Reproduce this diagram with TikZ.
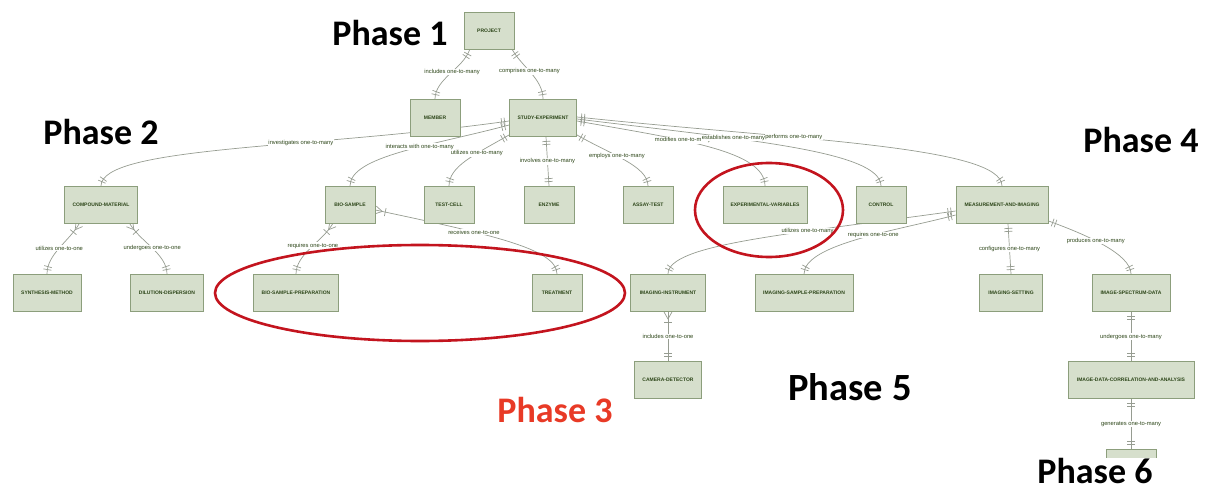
\documentclass[tikz,border=0pt]{standalone}
\usepackage{fontspec}
\setmainfont{Liberation Sans}
\newfontfamily\phasefont{Carlito}
\usetikzlibrary{decorations.markings,backgrounds}
\definecolor{boxfill}{RGB}{214,223,204}
\definecolor{boxline}{RGB}{140,158,124}
\definecolor{boxtext}{RGB}{45,70,25}
\definecolor{relline}{RGB}{150,156,145}
\definecolor{ringred}{RGB}{195,20,30}
\definecolor{phasered}{RGB}{232,58,38}
\begin{document}
\begin{tikzpicture}[x=1pt,y=1pt,
   entity/.style={draw=boxline,fill=boxfill,line width=.9pt,minimum width=50,minimum height=37,inner sep=1pt,
                  font=\fontsize{5}{6}\selectfont\bfseries,text=boxtext},
   lbl/.style={fill=white,inner sep=.6pt,font=\fontsize{5.8}{7}\selectfont,text=boxtext},
   rel/.style={draw=relline,line width=.7pt},
   onestart/.style={postaction={decorate,decoration={markings,
      mark=at position 4.5pt with {\draw[relline,line width=.7pt] (0,-4pt) -- (0,4pt);},
      mark=at position 7.5pt with {\draw[relline,line width=.7pt] (0,-4pt) -- (0,4pt);}}}},
   oneend/.style={postaction={decorate,decoration={markings,
      mark=at position -4.5pt with {\draw[relline,line width=.7pt] (0,-4pt) -- (0,4pt);},
      mark=at position -7.5pt with {\draw[relline,line width=.7pt] (0,-4pt) -- (0,4pt);}}}},
   crowstart/.style={postaction={decorate,decoration={markings,
      mark=at position 7pt with {\draw[relline,line width=.7pt] (-7pt,-4pt) -- (0,0) -- (-7pt,4pt);},
      mark=at position 10pt with {\draw[relline,line width=.7pt] (0,-4pt) -- (0,4pt);}}}},
   phase/.style={font=\phasefont\fontsize{36}{40}\selectfont\bfseries,inner sep=0pt},
   ring/.style={draw=ringred,line width=2.6pt}]

   \useasboundingbox (0,0) rectangle (1205,-492);

     % phase 1
     \path (489,-31) node[entity] (project) {PROJECT};
     \path (435,-118) node[entity] (member) {MEMBER};
     \path (543,-118) node[entity,minimum width=67] (study) {STUDY-EXPERIMENT};

     % phase 2
     \path (101,-205) node[entity,minimum width=73] (compound) {COMPOUND-MATERIAL};
     \path (47,-293) node[entity,minimum width=68] (synthesis) {SYNTHESIS-METHOD};
     \path (167,-293) node[entity,minimum width=73] (dilution) {DILUTION-DISPERSION};

     % phase 3
     \path (350,-205) node[entity] (biosample) {BIO-SAMPLE};
     \path (449,-205) node[entity] (testcell) {TEST-CELL};
     \path (549,-205) node[entity] (enzyme) {ENZYME};
     \path (648,-205) node[entity] (assay) {ASSAY-TEST};
     \path (765,-205) node[entity,minimum width=84] (expvar) {EXPERIMENTAL-VARIABLES};
     \path (881,-205) node[entity] (control) {CONTROL};
     \path (296,-293) node[entity,minimum width=85] (bioprep) {BIO-SAMPLE-PREPARATION};
     \path (557,-293) node[entity] (treatment) {TREATMENT};

     % phase 4 and 5
     \path (1002,-205) node[entity,minimum width=92] (measure) {MEASUREMENT-AND-IMAGING};
     \path (668,-293) node[entity,minimum width=75] (instrument) {IMAGING-INSTRUMENT};
     \path (804,-293) node[entity,minimum width=98] (imgprep) {IMAGING-SAMPLE-PREPARATION};
     \path (1011,-293) node[entity,minimum width=63] (setting) {IMAGING-SETTING};
     \path (1131,-293) node[entity,minimum width=78] (spectrum) {IMAGE-SPECTRUM-DATA};
     \path (668,-380) node[entity,minimum width=67] (camera) {CAMERA-DETECTOR};

     % phase 6
     \path (1131,-380) node[entity,minimum width=126] (analysis) {IMAGE-DATA-CORRELATION-AND-ANALYSIS};
     \path (1131,-466.5) node[entity,minimum height=34] (output) {};

   \begin{pgfonlayer}{background}
     \draw[rel,onestart,oneend] ([xshift=6]project.south west) .. controls +(250:20) and +(0,20) .. node[lbl,pos=.45] {includes one-to-many} (member.north);
     \draw[rel,onestart,oneend] ([xshift=-2]project.south east) .. controls +(-60:20) and +(0,20) .. node[lbl,pos=.45] {comprises one-to-many} (study.north);

     \draw[rel,onestart,oneend] ([yshift=-3]study.west) .. controls +(188:200) and +(0,40) .. node[lbl,pos=.36] {investigates one-to-many} (compound.north);
     \draw[rel,onestart,oneend] ([yshift=-7]study.west) .. controls +(195:80) and +(0,30) .. node[lbl,pos=.4] {interacts with one-to-many} (biosample.north);
     \draw[rel,onestart,oneend] ([yshift=2]study.south west) .. controls +(210:40) and +(0,20) .. node[lbl,pos=.35] {utilizes one-to-many} (testcell.north);
     \draw[rel,onestart,oneend] ([xshift=3]study.south) -- node[lbl,pos=.5] {involves one-to-many} (enzyme.north);
     \draw[rel,onestart,oneend] ([yshift=2]study.south east) .. controls +(-30:40) and +(0,20) .. node[lbl,pos=.4] {employs one-to-many} (assay.north);
     \draw[rel,onestart,oneend] ([yshift=-3]study.east) .. controls +(-10:110) and +(0,35) .. node[lbl,pos=.37] {modifies one-to-many} (expvar.north);
     \draw[rel,onestart,oneend] ([yshift=-1]study.east) .. controls +(-7:170) and +(0,35) .. node[lbl,pos=.34] {establishes one-to-many} (control.north);
     \draw[rel,onestart,oneend] ([yshift=1]study.east) .. controls +(-6:220) and +(0,40) .. node[lbl,pos=.35] {performs one-to-many} (measure.north);

     \draw[rel,crowstart,oneend] ([xshift=15]compound.south west) .. controls +(240:20) and +(0,20) .. node[lbl,pos=.5] {utilizes one-to-one} (synthesis.north);
     \draw[rel,crowstart,oneend] ([xshift=-8]compound.south east) .. controls +(-60:20) and +(0,20) .. node[lbl,pos=.5] {undergoes one-to-one} (dilution.north);

     \draw[rel,crowstart,oneend] ([xshift=8]biosample.south west) .. controls +(240:20) and +(0,20) .. node[lbl,pos=.45] {requires one-to-one} (bioprep.north);
     \draw[rel,crowstart,oneend] ([yshift=-5]biosample.east) .. controls +(-12:120) and +(0,25) .. node[lbl,pos=.33] {receives one-to-one} (treatment.north);

     \draw[rel,onestart,oneend] ([yshift=-6]measure.west) .. controls +(188:170) and +(0,30) .. node[lbl,pos=.33] {utilizes one-to-many} (instrument.north);
     \draw[rel,onestart,oneend] ([yshift=-10]measure.west) .. controls +(195:60) and +(0,30) .. node[lbl,pos=.42] {requires one-to-one} (imgprep.north);
     \draw[rel,onestart,oneend] ([xshift=6]measure.south) -- node[lbl,pos=.5] {configures one-to-many} (setting.north);
     \draw[rel,onestart,oneend] ([yshift=3]measure.south east) .. controls +(-20:40) and +(0,20) .. node[lbl,pos=.42] {produces one-to-many} (spectrum.north);

     \draw[rel,crowstart,oneend] (instrument.south) -- node[lbl,pos=.5] {includes one-to-one} (camera.north);
     \draw[rel,onestart,oneend] (spectrum.south) -- node[lbl,pos=.5] {undergoes one-to-many} (analysis.north);
     \draw[rel,onestart,oneend] (analysis.south) -- node[lbl,pos=.5] {generates one-to-many} (output.north);
   \end{pgfonlayer}

     % marked groups
     \draw[ring] (420,-293) ellipse [x radius=205,y radius=48];
     \draw[ring] (769,-210) ellipse [x radius=74,y radius=47];

     \node[phase] (phase1) at (390,-33) {Phase 1};
     \node[phase] (phase2) at (101,-132) {Phase 2};
     \node[phase,text=phasered] (phase3) at (555,-410) {Phase 3};
     \node[phase] (phase4) at (1141,-140) {Phase 4};
     \node[phase,font=\phasefont\fontsize{38.5}{42}\selectfont\bfseries] (phase5) at (850,-387) {Phase 5};
     \node[phase,fill=white,inner xsep=5pt,inner ysep=0pt,font=\phasefont\fontsize{36}{40}\selectfont\bfseries] (phase6) at (1095,-471) {Phase 6};

\end{tikzpicture}
\end{document}
